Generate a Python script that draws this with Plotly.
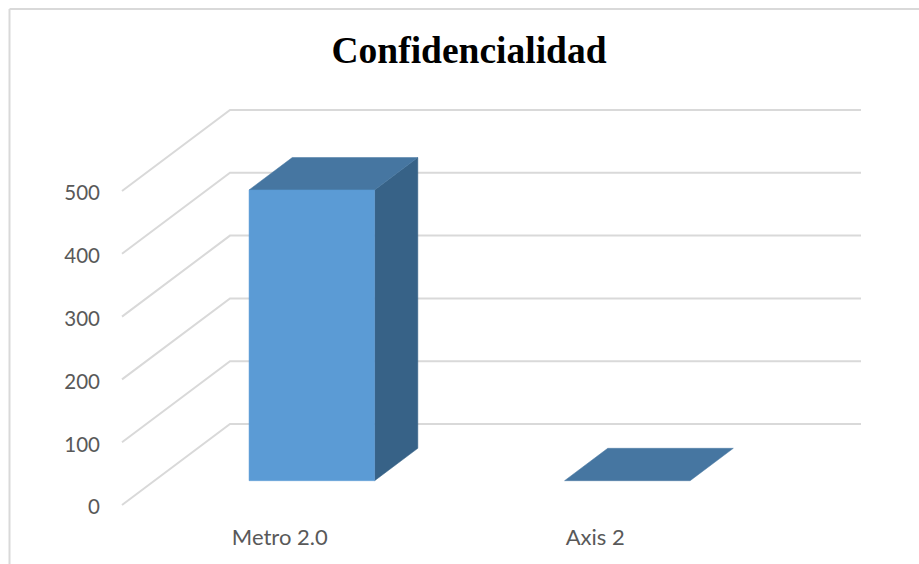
import plotly.graph_objects as go

categories = ["Metro 2.0", "Axis 2"]
values = [463, 0]
y_ticks = [0, 100, 200, 300, 400, 500]
title = "Confidencialidad"

# Oblique projection of the chart's depth, in data units
CAT_PX, VAL_PX = 315.5, 0.628
DX, DY = 108 / CAT_PX, 81 / VAL_PX
X0_PX, Y0_PX = 122, 505
W, H = 919, 564
LABEL_NUDGE = 3.5  # tick labels sit slightly below their gridline start


def pr(c, v, d):
    return c + d * DX, v + d * DY


def face(pts, color):
    xy = [pr(*p) for p in pts + pts[:1]]
    return go.Scatter(x=[p[0] for p in xy], y=[p[1] for p in xy], mode="lines", fill="toself",
                      fillcolor=color, line=dict(color=color, width=0.5), hoverinfo="skip", showlegend=False)


fig = go.Figure()
GRID = dict(color="#D9D9D9", width=2)
for t in y_ticks:
    xy = [pr(0, t, 0), pr(0, t, 1), pr(len(categories), t, 1)]
    fig.add_trace(go.Scatter(x=[p[0] for p in xy], y=[p[1] for p in xy], mode="lines", line=GRID,
                             hoverinfo="skip", showlegend=False))

d0, d1 = 0.3, 0.7
for i, v in enumerate(values):
    a, b = i + 0.3, i + 0.7 - 0.002
    if v > 0:
        fig.add_trace(face([(b, 0, d0), (b, 0, d1), (b, v, d1), (b, v, d0)], "#376287"))
    fig.add_trace(face([(a, v, d0), (b, v, d0), (b, v, d1), (a, v, d1)], "#4676A1"))
    if v > 0:
        fig.add_trace(face([(a, 0, d0), (b, 0, d0), (b, v, d0), (a, v, d0)], "#5B9BD5"))

fig.update_layout(
    width=W, height=H, margin=dict(l=0, r=0, t=0, b=0),
    paper_bgcolor="white", plot_bgcolor="white", showlegend=False,
    title=dict(text=f"<b>{title}</b>", x=469 / W, xanchor="center", y=1 - 50 / H, yanchor="middle",
               font=dict(family="Liberation Serif", size=37.5, color="black")),
    xaxis=dict(range=[-X0_PX / CAT_PX, (W - X0_PX) / CAT_PX], domain=[0, 1], showgrid=False, zeroline=False,
               tickmode="array", tickvals=[i + 0.5 for i in range(len(categories))], ticktext=categories,
               anchor="free", position=1 - 522 / H, ticks="", showline=False,
               tickfont=dict(family="Lato", size=22, color="#595959")),
    yaxis=dict(range=[-(H - Y0_PX) / VAL_PX, Y0_PX / VAL_PX], domain=[0, 1], showgrid=False, zeroline=False,
               tickmode="array", tickvals=[t - LABEL_NUDGE for t in y_ticks], ticktext=[str(t) for t in y_ticks],
               anchor="free", position=100 / W, ticks="", showline=False,
               tickfont=dict(family="Lato", size=20.5, color="#595959")),
    shapes=[
        dict(type="line", xref="paper", yref="paper", x0=9.5 / W, x1=9.5 / W, y0=0, y1=1 - 9 / H,
             line=dict(color="#D9D9D9", width=2)),
        dict(type="line", xref="paper", yref="paper", x0=9.5 / W, x1=1, y0=1 - 9 / H, y1=1 - 9 / H,
             line=dict(color="#D9D9D9", width=2)),
    ],
)
fig.write_html("out.html", config={"displayModeBar": False},
               post_script="document.body.style.margin='0';document.body.style.overflow='hidden';")
